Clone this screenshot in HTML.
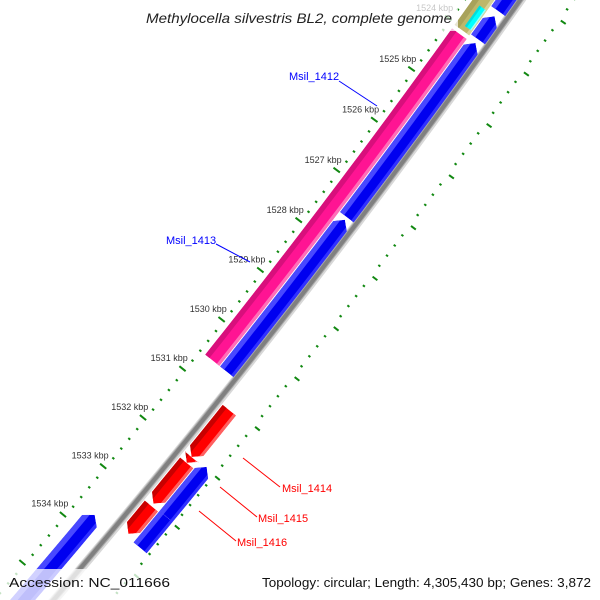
<!DOCTYPE html>
<html><head><meta charset="utf-8"><style>
html,body{margin:0;padding:0;background:#fff;width:600px;height:600px;overflow:hidden;}
svg{display:block;overflow:hidden;}
text{font-family:"Liberation Sans",sans-serif;}
</style></head><body>
<svg id="map" width="600" height="600" viewBox="0 0 600 600" xmlns="http://www.w3.org/2000/svg">
<defs id="defs"></defs>
<g id="backbone"></g>
<g id="ticks"></g>
<g id="features"></g>
<g id="rulerLabels"></g>
<g>
  <line x1="339" y1="81" x2="377" y2="106" stroke="#0000ff" stroke-width="1"/>
  <text x="289" y="80" font-size="11" fill="#0000ff">Msil_1412</text>
  <line x1="216" y1="244" x2="250" y2="262" stroke="#0000ff" stroke-width="1"/>
  <text x="166" y="244" font-size="11" fill="#0000ff">Msil_1413</text>
  <line x1="243" y1="458" x2="280" y2="487" stroke="#ff0000" stroke-width="1"/>
  <text x="282" y="492" font-size="11" fill="#ff0000">Msil_1414</text>
  <line x1="220" y1="487" x2="257" y2="517" stroke="#ff0000" stroke-width="1"/>
  <text x="258" y="522" font-size="11" fill="#ff0000">Msil_1415</text>
  <line x1="199" y1="511" x2="236" y2="541" stroke="#ff0000" stroke-width="1"/>
  <text x="237" y="546" font-size="11" fill="#ff0000">Msil_1416</text>
</g>
<g>
  <rect x="142" y="3" width="316" height="28" fill="#fff" fill-opacity="0.72"/>
  <text x="146" y="23" font-size="14" font-style="italic" fill="#222" textLength="306" lengthAdjust="spacingAndGlyphs">Methylocella silvestris BL2, complete genome</text>
</g>
<g>
  <rect x="0" y="569" width="176" height="31" fill="#fff" fill-opacity="0.75"/>
  <text x="9" y="587" font-size="13" fill="#111" textLength="161" lengthAdjust="spacingAndGlyphs">Accession: NC_011666</text>
  <rect x="256" y="569" width="344" height="31" fill="#fff" fill-opacity="0.75"/>
  <text x="262" y="587" font-size="13" fill="#111" textLength="329" lengthAdjust="spacingAndGlyphs">Topology: circular; Length: 4,305,430 bp; Genes: 3,872</text>
</g>
</svg>
<script>
// ---- data (positions in kbp, tracks) ----
const featStart = [1524.10, 1523.00, 1523.55, 1522.40, 1523.55, 1524.07, 1527.55, 1531.05, 1532.00, 1532.12, 1533.00, 1531.97, 1532.98, 1533.68];
const featEnd   = [1530.60, 1524.03, 1523.95, 1523.45, 1524.00, 1527.50, 1530.60, 1532.00, 1532.12, 1532.95, 1533.57, 1532.98, 1533.62, 1535.60];
const featTrack = ['pink','pink','cyan','inner','inner','inner','inner','outerR','outerR','outerR','outerR','outerB','outerB','mid'];
const featColor = ['pink','khaki','cyan','blue','blue','blue','blue','red','red','red','red','blue','blue','blue'];
const featHead  = ['none','none','none','none','start','start','start','end','end','end','end','start','none','start'];
const featNames = ['msil-1413','khaki-feature','cyan-feature','gene-top-blue','gene-small-blue','msil-1412','msil-1413-blue','msil-1414','small-red','msil-1415a','msil-1415b','msil-1416a','msil-1416b','gene-bottom-blue'];
const rulerLabelKbp = [1524,1525,1526,1527,1528,1529,1530,1531,1532,1533,1534];

// ---- geometry ----
const CX=-6326, CY=-4843, R0=8342, TH0=37.39, DTH=0.432;
const tracks={pink:[5,23],cyan:[14,22],inner:[24,41],outerR:[50,67],outerB:[68,85],mid:[11,30]};
const palette={
  pink:{base:'#ff1493',dark:'#d80f7c',light:'#ff6fb8'},
  khaki:{base:'#bdb76b',dark:'#a8a25a',light:'#d8d39a'},
  cyan:{base:'#00ffff',dark:'#00dddd',light:'#9ffcff'},
  blue:{base:'#0000f0',dark:'#4848ff',light:'#3030ff'},
  red:{base:'#ff0000',dark:'#c80000',light:'#ff6060'}
};
function pt(k,v){const t=(TH0+(k-1528)*DTH)*Math.PI/180;const r=R0+v;return [CX+r*Math.cos(t),CY+r*Math.sin(t)];}
function f(p){return p[0].toFixed(2)+','+p[1].toFixed(2);}
function edge(k1,k2,v){const n=Math.max(2,Math.ceil(Math.abs(k2-k1)/0.25));const a=[];for(let i=0;i<=n;i++)a.push(pt(k1+(k2-k1)*i/n,v));return a;}
const NS='http://www.w3.org/2000/svg';
function mk(tag,attrs,parent){const e=document.createElementNS(NS,tag);for(const k in attrs)e.setAttribute(k,attrs[k]);parent.appendChild(e);return e;}

// backbone
const bb=document.getElementById('backbone');
[[40,49,'#d8d8d8'],[41,47,'#a8a8a8'],[42,46,'#808080']].forEach(function(s){
  const pts=edge(1522,1536,s[0]).concat(edge(1536,1522,s[1]));
  const p=mk('polygon',{points:pts.map(f).join(' '),fill:s[2]},bb);
  
  
});

// ticks
const tg=document.getElementById('ticks');
for(let i=0;i<=70;i++){
  const k=1522+i*0.2;const major=(i%5===0);
  [[-1,0],[88,1]].forEach(function(o){
    const base=o[0];
    const a=major?pt(k,base-(o[1]?-1:7)):pt(k,base-1.5);
    const b=major?pt(k,base+(o[1]?7:1)):pt(k,base+1);
    const l=mk('line',{x1:a[0],y1:a[1],x2:b[0],y2:b[1],stroke:'#118811','stroke-width':2},tg);
    
    
  });
}

// features
const fg=document.getElementById('features');const defs=document.getElementById('defs');
const HL=0.13;
for(let i=0;i<featStart.length;i++){
  const k1=featStart[i],k2=featEnd[i],tr=tracks[featTrack[i]],v1=tr[0],v2=tr[1],vm=(v1+v2)/2,h=featHead[i];
  let pts;
  if(h==='start'){pts=edge(k1+HL,k2,v1).concat(edge(k2,k1+HL,v2));pts.push(pt(k1,vm));}
  else if(h==='end'){pts=edge(k1,k2-HL,v1);pts.push(pt(k2,vm));pts=pts.concat(edge(k2-HL,k1,v2));}
  else{pts=edge(k1,k2,v1).concat(edge(k2,k1,v2));}
  const ps=pts.map(f).join(' ');
  const cp=mk('clipPath',{id:'cp'+i},defs);
  mk('polygon',{points:ps},cp);
  const g=mk('g',{'clip-path':'url(#cp'+i+')'},fg);
  
  
  const c=palette[featColor[i]];const w=v2-v1;
  mk('polygon',{points:ps,fill:c.base},g);
  const d1=edge(k1-0.1,k2+0.1,v1-1).concat(edge(k2+0.1,k1-0.1,v1+w*0.3));
  mk('polygon',{points:d1.map(f).join(' '),fill:c.dark},g);
  const l1=edge(k1-0.1,k2+0.1,v2-w*0.18).concat(edge(k2+0.1,k1-0.1,v2+1));
  mk('polygon',{points:l1.map(f).join(' '),fill:c.light},g);
}

// ruler labels
const rl=document.getElementById('rulerLabels');
rulerLabelKbp.forEach(function(k){
  const p=pt(k,-21);
  const t=mk('text',{x:p[0].toFixed(1),y:(p[1]+3).toFixed(1),'font-size':9,'text-anchor':'middle',fill:'#333'},rl);
  
  
  t.textContent=k+' kbp';
});
</script>
</body></html>
